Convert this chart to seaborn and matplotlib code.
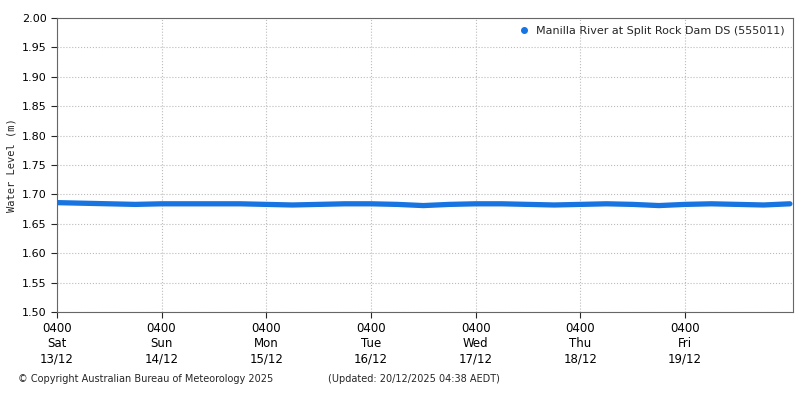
import numpy as np
import pandas as pd
import matplotlib
matplotlib.use("Agg")
import matplotlib.pyplot as plt
import seaborn as sns

# 6-hourly readings from 13/12 04:00 to 20/12 04:00
start = "2025-12-13 04:00"
level = [1.686, 1.685, 1.684, 1.683, 1.684, 1.684, 1.684, 1.684,
         1.683, 1.682, 1.683, 1.684, 1.684, 1.683, 1.681, 1.683,
         1.684, 1.684, 1.683, 1.682, 1.683, 1.684, 1.683, 1.681,
         1.683, 1.684, 1.683, 1.682, 1.684]
tick_days = ["Sat\n13/12", "Sun\n14/12", "Mon\n15/12", "Tue\n16/12",
             "Wed\n17/12", "Thu\n18/12", "Fri\n19/12"]
label = "Manilla River at Split Rock Dam DS (555011)"

df = pd.DataFrame({"time": pd.date_range(start, periods=len(level), freq="6h"),
                   "level": level})

sns.set_style("white")
plt.rcParams["font.family"] = ["DejaVu Sans"]
fig = plt.figure(figsize=(8, 4), dpi=100)
ax = fig.add_axes([0.071, 0.22, 0.92, 0.735])
sns.lineplot(data=df, x="time", y="level", ax=ax, color="#1874e0", linewidth=3.8)
ax.plot([], [], "o", color="#1874e0", markersize=4, label=label)

ax.set_ylim(1.5, 2.0)
yt = np.arange(1.5, 2.001, 0.05)
ax.set_yticks(yt)
ax.set_yticklabels([f"{v:.2f}" for v in yt], fontsize=8, color="black")
ax.set_xlim(pd.Timestamp(start), pd.Timestamp("2025-12-20 04:40"))
ticks = pd.date_range(start, periods=7, freq="D")
ax.set_xticks(ticks)
ax.set_xticklabels(["0400\n" + d for d in tick_days], fontsize=8.5, color="black")
ax.tick_params(length=4, direction="out", bottom=True, left=True)
ax.grid(True, linestyle=":", color="#bbbbbb", linewidth=0.8)
for s in ax.spines.values():
    s.set_color("#666666")
ax.set_xlabel("")
ax.set_ylabel("Water Level (m)", family="monospace", fontsize=7.5)
ax.legend(loc="upper right", frameon=False, fontsize=8, handletextpad=0.1,
          borderaxespad=0.3, markerscale=1)

fig.text(0.022, 0.045, "© Copyright Australian Bureau of Meteorology 2025", fontsize=7)
fig.text(0.41, 0.045, "(Updated: 20/12/2025 04:38 AEDT)", fontsize=7)
fig.savefig("out.png", dpi=100, facecolor="white")
